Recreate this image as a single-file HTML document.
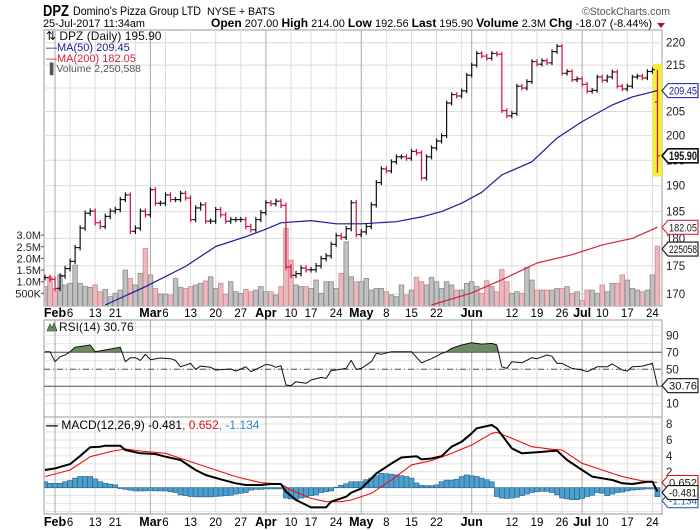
<!DOCTYPE html>
<html><head><meta charset="utf-8"><style>
html,body{margin:0;padding:0;background:#fff;}
svg{display:block;font-family:"Liberation Sans",sans-serif;}
</style></head><body>
<svg id="chart" width="700" height="530" viewBox="0 0 700 530" xmlns="http://www.w3.org/2000/svg">
<defs>
<clipPath id="mainClip"><rect x="44" y="30" width="618" height="276"/></clipPath>
<clipPath id="rsiClip"><rect x="44" y="320" width="618" height="97"/></clipPath>
<clipPath id="rsiHi"><rect x="44" y="320" width="618" height="32.3"/></clipPath>
<clipPath id="macdClip"><rect x="44" y="417" width="618" height="97"/></clipPath>
</defs>
<g>
<text x="43" y="16" font-size="16" font-weight="bold" textLength="26" lengthAdjust="spacingAndGlyphs">DPZ</text>
<text x="73" y="15" font-size="12" textLength="128" lengthAdjust="spacingAndGlyphs">Domino's Pizza Group LTD</text>
<text x="207" y="15" font-size="11" textLength="68" lengthAdjust="spacingAndGlyphs">NYSE + BATS</text>
<text x="582" y="15" font-size="11" fill="#555" textLength="88" lengthAdjust="spacingAndGlyphs">©StockCharts.com</text>
<text x="43" y="27" font-size="11" textLength="102" lengthAdjust="spacingAndGlyphs">25-Jul-2017 11:34am</text>
<text x="211" y="27" font-size="11" textLength="441" lengthAdjust="spacingAndGlyphs"><tspan font-weight="bold" font-size="12">Open</tspan> 207.00 <tspan font-weight="bold" font-size="12">High</tspan> 214.00 <tspan font-weight="bold" font-size="12">Low</tspan> 192.56 <tspan font-weight="bold" font-size="12">Last</tspan> 195.90 <tspan font-weight="bold" font-size="12">Volume</tspan> 2.3M <tspan font-weight="bold" font-size="12">Chg</tspan> -18.07 (-8.44%)</text>
<polygon points="657,23 665,23 661,28" fill="#b01030"/>
</g>
<g id="grid"></g>
<g id="panels"></g>
</svg>
<script>
// ---------- data ----------
const closes = [172.9,172.6,171,173.2,174.5,175.8,178.3,181.9,184.7,185.1,
182.9,182.2,184.1,185.1,185.4,187.3,188.2,181.3,181.9,185.1,
184.4,189.2,186.6,186.6,188.2,187.3,187.3,188.5,187.6,183.5,
185.7,186.3,183.2,183.2,185.4,184.4,183.2,183.5,183.5,183.5,
182.2,181.6,183.5,184.8,186.7,186.5,187,186.2,
174.8,173.3,173.6,174.6,174.3,174.3,175,176.3,176.8,178.9,180.5,180.2,181.8,
186.7,180.7,181.2,182.2,186.3,190.6,193.3,192.9,194.7,195.7,195.7,195.4,196.8,196.5,191.5,195.7,197.5,198.9,200,206.8,208.6,208.3,209.4,212.8,
215,217.6,217,216.5,217.6,217.4,205.2,204.1,204.6,210.4,210,211.4,215.8,215.2,216,215.5,218,219.2,213.2,213.6,211.8,212,210.8,209.3,209.5,212.4,211.7,212.4,213.5,210.4,209.8,210.4,212.4,212.6,212.2,213.6,214,195.9];
const lastBar = {open:207.0, high:214.0, low:192.56, close:195.9};
const volumes = [0.79,1.21,0.71,1.29,0.86,0.93,1.71,0.93,0.79,0.76,0.86,0.57,0.67,0.36,0.5,0.64,1.5,1.14,0.86,1.36,2.43,1.29,0.71,0.47,0.47,0.43,1.14,0.76,0.71,0.79,0.86,0.93,1.03,1.21,0.71,0.93,0.47,1.0,0.57,0.5,0.67,0.57,0.64,
0.79,0.57,0.57,0.43,0.79,3.29,
1.93,0.86,0.79,0.79,0.71,1.07,0.5,1.0,1.0,0.71,1.36,2.71,1.21,1.0,1.0,1.14,0.64,0.71,0.71,0.57,0.43,0.36,0.86,0.43,0.64,1.19,1.0,0.86,1.19,1.0,0.71,1.0,0.86,0.64,0.64,0.93,
1.0,0.79,0.5,1.04,0.79,0.57,1.53,1.0,0.5,0.57,0.5,1.61,1.07,0.64,0.64,0.64,0.64,0.71,0.71,0.79,0.5,0.57,0.19,0.64,0.64,0.5,0.86,0.57,0.93,0.93,1.29,1.07,0.71,0.64,0.57,0.64,1.29,2.53];
const ma50Idx = [12,20,28,34,40,44,47,53,58,63,70,75,79,83,87,91,97,102,107,113,117,122];
const ma50Val = [168.1,171.3,174.9,178.5,180.3,181.7,182.9,183.3,182.7,182.7,183.1,184.0,185.0,186.6,188.7,192.1,194.7,199.5,202.9,206.4,208.1,209.45];
const ma200Idx = [77,85,91,98,105,111,117,122];
const ma200Val = [168.1,170.2,172.5,175.5,177,178.8,180,182.05];
const rsiIdx = [0,1,2,3,4,5,6,9,10,15,16,17,18,19,20,21,23,25,26,27,29,30,31,33,34,37,38,39,40,41,42,44,45,46,47,48,49,50,52,53,55,56,57,60,61,62,63,65,66,67,69,73,75,77,79,80,81,83,85,87,89,90,91,92,93,95,97,98,100,101,102,103,105,107,108,110,112,113,115,116,117,119,121,122];
const rsiVal = [70.7,70.7,58.9,64.8,66.8,70.7,75.9,78.6,70.7,75.9,58.9,63.7,63.7,60.5,67.6,61.3,63.3,62.5,60.5,53,56.9,49.9,53.8,52.3,49.2,50.4,48,50.4,53,47.2,49.9,55.8,55,52.3,54.2,31.5,30.7,35.4,33.5,37.4,40.5,39.3,48.4,51.1,60.5,49.9,51.1,58.9,68.7,67.6,70.7,70.7,57.7,62.5,68.7,70.7,74.7,78.6,81.2,79.7,80.5,78.6,53,51.1,58.9,57.7,63.7,62.5,66.8,65.3,56.9,56.9,51.1,49.2,47.2,53,53,56.2,49.2,48,53,53.8,56.9,30.76];
const macdIdx = [0,2,5,7,9,11,12,15,16,19,22,24,27,30,32,35,38,40,43,45,47,48,50,53,56,57,60,61,63,66,69,71,74,75,77,79,81,83,85,86,89,90,92,93,95,98,101,102,104,107,109,111,113,115,117,120,121,122];
const macdVal = [2.22,2.43,2.97,3.98,5.07,5.15,5.28,5.28,4.74,4.32,4.23,3.9,3.48,2.22,1.6,1.05,0.55,0.34,0.34,0.46,0.46,-0.5,-1.55,-2.47,-2.47,-1.76,-1.13,-0.63,-0.1,1.78,3.04,3.79,3.96,3.55,3.67,3.96,5.15,5.78,6.83,7.46,7.88,7.46,5.78,4.94,4.32,4.45,4.61,4.65,3.48,2.22,1.39,1.18,0.97,0.55,0.46,0.76,0.76,-0.481];
const signalIdx = [0,5,9,13,16,19,24,28,34,38,43,47,49,53,56,59,61,65,69,73,77,81,85,89,90,93,97,101,103,107,111,115,119,122];
const signalVal = [1.39,2.22,3.9,4.53,4.86,4.61,4.32,3.48,2.22,1.39,0.63,0.46,-0.29,-1.34,-1.76,-1.76,-1.55,-0.71,0.97,2.86,3.4,4.32,5.36,6.83,6.95,6.2,5.15,4.82,4.74,3.06,2.22,1.39,0.85,0.652];
const histVal = [0.75,0.55,0.55,0.55,0.75,0.9,1.2,1.4,1.4,1.4,1.1,0.75,0.55,0.45,0.35,-0.1,-0.2,-0.3,-0.4,-0.4,-0.4,-0.35,-0.4,-0.4,-0.4,-0.5,-0.6,-0.9,-1.0,-1.1,-1.15,-1.15,-1.15,-1.15,-1.1,-1.05,-1.0,-0.95,-0.8,-0.7,-0.6,-0.3,-0.2,-0.2,-0.15,-0.15,-0.15,-0.15,-1.3,-1.4,-1.45,-1.3,-1.2,-1.0,-0.9,-0.6,-0.5,-0.4,0.05,0.3,0.5,0.75,
0.75,0.75,1.0,1.2,1.5,1.8,1.75,1.7,1.6,1.5,1.4,1.2,0.6,0.3,0.25,0.25,0.35,0.75,0.95,0.95,1.05,1.4,1.6,1.5,1.4,1.2,1.0,0.75,-1.1,-1.3,-1.35,-1.3,-1.2,-1.0,-0.8,-0.6,-0.5,-0.45,-0.45,-0.6,-0.9,-1.3,-1.4,-1.5,-1.5,-1.35,-1.1,-0.95,-0.6,-0.7,-1.0,-0.8,-0.6,-0.55,-0.4,-0.3,-0.25,-0.2,-0.15,-0.15,-1.13];
const priceTicks = [170,175,180,185,190,195,200,205,210,215,220];
const volTicks = [0.5,1.0,1.5,2.0,2.5,3.0];
const volTickLabels = ["500K","1.0M","1.5M","2.0M","2.5M","3.0M"];
const rsiTicks = [90,70,50,10];
const macdTicks = [8,6,4,2,-2];
const monthIdx = [2,21,44,63,85,107];
const monthNames = ["Feb","Mar","Apr","May","Jun","Jul"];
const weekIdx = [5,10,14,18,24,29,34,39,49,53,58,68,73,78,83,88,93,98,103,111,116,121];
const weekLabels = ["6","13","21","","6","13","20","27","10","17","24","8","15","22","","","12","19","26","10","17","24"];

// ---------- scales ----------
const xi = i => 45 + i*5.02;
const yP = p => 42.7 + 975*Math.log(220/p);
const yV = v => 305 - v*23.3;
const yR = r => 369.3 - (r-50)*0.85;
const yM = m => 487.7 - m*7.96;
const NS = "http://www.w3.org/2000/svg";
const svg = document.getElementById('chart');
const grid = document.getElementById('grid');
const panels = document.getElementById('panels');
function mk(tag, parent, attrs){ const e=document.createElementNS(NS,tag); for(const k in attrs) e.setAttribute(k,attrs[k]); (parent||svg).appendChild(e); return e; }

const panelDefs = [[30,276,'price-panel'],[320,97,'rsi-panel'],[417,97,'macd-panel']];
panelDefs.forEach(d=>{
  const r = mk('rect', grid, {x:44,y:d[0],width:618,height:d[1],fill:'#fff',stroke:'#999','stroke-width':1});
  
  
});

priceTicks.forEach(p=>{
  const l = mk('line', grid, {x1:44,x2:662,y1:yP(p),y2:yP(p),stroke:'#dcdcdc'});
  
  
});
for(let r=10;r<=100;r+=10){
  const l = mk('line', grid, {x1:44,x2:662,y1:yR(r),y2:yR(r),stroke:'#e2e2e2'});
  
  
}
for(let m=-3;m<=8;m++){
  const l = mk('line', grid, {x1:44,x2:662,y1:yM(m),y2:yM(m),stroke:'#e2e2e2'});
  
  
}
const bands = [[30,306],[320,417],[417,514]];
weekIdx.forEach(i=>{
  bands.forEach(b=>{
    const l = mk('line', grid, {x1:xi(i),x2:xi(i),y1:b[0],y2:b[1],stroke:'#dcdcdc'});
    
    
  });
});
monthIdx.forEach(i=>{
  bands.forEach(b=>{
    const l = mk('line', grid, {x1:xi(i),x2:xi(i),y1:b[0],y2:b[1],stroke:'#aaa'});
    
    
  });
});
[317,526].forEach(yy=>{
  monthIdx.forEach((i,k)=>{
    const t = mk('text', panels, {x:xi(i),y:yy,'font-size':12.5,'font-weight':'bold','text-anchor':'middle'});
    t.textContent = monthNames[k];
    
    
  });
  weekIdx.forEach((i,k)=>{
    if(!weekLabels[k]) return;
    const t = mk('text', panels, {x:xi(i),y:yy,'font-size':11.5,'text-anchor':'middle'});
    t.textContent = weekLabels[k];
    
    
  });
});

// ---------- price panel ----------
const mainG = mk('g', panels, {'clip-path':'url(#mainClip)'});


const hl = mk('rect', mainG, {x:xi(122)-5,y:yP(lastBar.high)-6,width:10,height:yP(lastBar.low)-yP(lastBar.high)+10,fill:'#f4ef3a'});


volumes.forEach((v,i)=>{
  const down = i>0 && closes[i]<closes[i-1];
  const r = mk('rect', mainG, {x:xi(i)-2.3,y:yV(v),width:4.6,height:305-yV(v)+2,fill:down?'#e9b9c0':'#c0c0c0',stroke:down?'#d98890':'#8c8c8c','stroke-width':0.8});
  
  
});
function polyline(parent, idx, vals, yf, color, w, name){
  const pts = idx.map((i,k)=>xi(i).toFixed(1)+','+yf(vals[k]).toFixed(1)).join(' ');
  const p = mk('polyline', parent, {points:pts,fill:'none',stroke:color,'stroke-width':w,'stroke-linejoin':'round'});
  
  
  return p;
}
polyline(mainG, ma50Idx, ma50Val, yP, '#1a1a9a', 1.2, 'ma50-line');
polyline(mainG, ma200Idx, ma200Val, yP, '#d8203c', 1.2, 'ma200-line');
closes.forEach((c,i)=>{
  let o = i>0 ? closes[i-1] : c;
  let hi = Math.max(o,c)+0.5, lo = Math.min(o,c)-0.5;
  if(i===closes.length-1){ o=lastBar.open; hi=lastBar.high; lo=lastBar.low; }
  const down = i>0 && c<closes[i-1];
  const col = down ? '#d0103a' : '#111';
  const g = mk('g', mainG, {stroke:col,'stroke-width':1.2});
  
  
  const x = xi(i);
  mk('line', g, {x1:x,x2:x,y1:yP(hi),y2:yP(lo)});
  mk('line', g, {x1:x-2.5,x2:x,y1:yP(o),y2:yP(o)});
  mk('line', g, {x1:x,x2:x+2.5,y1:yP(c),y2:yP(c)});
});
priceTicks.forEach(p=>{
  const t = mk('text', panels, {x:666,y:yP(p)+4,'font-size':11.5,fill:'#222'});
  t.textContent = p;
  
  
});
volTicks.forEach((v,k)=>{
  const t = mk('text', panels, {x:41,y:yV(v)+4,'font-size':11,fill:'#222','text-anchor':'end'});
  t.textContent = volTickLabels[k];
  
  
  const tk = mk('line', panels, {x1:41,x2:44,y1:yV(v),y2:yV(v),stroke:'#555'});
  
  
});
const leg = [[ '\u21C5 DPZ (Daily) 195.90','#111',40,12],['\u2014MA(50) 209.45','#1a1a9a',51,11],['\u2014MA(200) 182.05','#d8203c',62,11],['\u2590 Volume 2,250,588','#555',72,10.5]];
leg.forEach(l=>{
  const t = mk('text', panels, {x:46,y:l[2],'font-size':l[3],fill:l[1]});
  t.textContent = l[0];
  
  
});

function tag(y, label, stroke, color, bold, name){
  const g = mk('g', panels, {});
  
  
  mk('path', g, {d:`M662,${y} L668,${y-7} L698,${y-7} L698,${y+7} L668,${y+7} Z`,fill:'#fff',stroke:stroke,'stroke-width':bold?1.6:1.1});
  const t = mk('text', g, {x:669,y:y+4,'font-size':bold?11.5:11,'font-weight':bold?'bold':'normal',fill:color,textLength:28,lengthAdjust:'spacingAndGlyphs'});
  t.textContent = label;
}
tag(yP(209.45),'209.45','#1a1a9a','#1a1a9a',false,'ma50-value-tag');
tag(yP(195.90),'195.90','#111','#111',true,'last-price-tag');
tag(yP(182.05),'182.05','#d8203c','#222',false,'ma200-value-tag');
tag(yV(volumes[volumes.length-1])+3,'225058','#111','#111',false,'volume-value-tag');

// ---------- RSI panel ----------
const rsiG = mk('g', panels, {'clip-path':'url(#rsiClip)'});


const rsiPts = rsiIdx.map((i,k)=>xi(i).toFixed(1)+','+yR(rsiVal[k]).toFixed(1));
const fill = mk('polygon', rsiG, {points:rsiPts.join(' ')+` ${xi(122)},${yR(70)} ${xi(0)},${yR(70)}`,fill:'#6b8c63','clip-path':'url(#rsiHi)'});


[[70,'none'],[30,'none'],[50,'6,3,1,3']].forEach(d=>{
  const l = mk('line', rsiG, {x1:44,x2:662,y1:yR(d[0]),y2:yR(d[0]),stroke:'#555','stroke-width':1,'stroke-dasharray':d[1]});
  
  
});
polyline(rsiG, rsiIdx, rsiVal, yR, '#111', 1, 'rsi-line');
rsiTicks.forEach(r=>{
  const t = mk('text', panels, {x:666,y:yR(r)+4,'font-size':11.5,fill:'#222'});
  t.textContent = r;
  
  
});
tag(yR(30.76),'30.76','#111','#111',false,'rsi-value-tag');
const rl = mk('text', panels, {x:59,y:331,'font-size':12,fill:'#111'});
rl.textContent = 'RSI(14) 30.76';


const ri = mk('polygon', panels, {points:'47,331 50,324 52,328 54,323 57,331',fill:'#6b8c63',stroke:'#333','stroke-width':0.6});



// ---------- MACD panel ----------
const macdG = mk('g', panels, {'clip-path':'url(#macdClip)'});


histVal.forEach((h,i)=>{
  const y0 = yM(0), y1 = yM(h);
  const r = mk('rect', macdG, {x:xi(i)-2.5,y:Math.min(y0,y1),width:5,height:Math.abs(y1-y0),fill:'#4f9fcd',stroke:'#2a6a94','stroke-width':0.7});
  
  
});
polyline(macdG, signalIdx, signalVal, yM, '#f01010', 1.1, 'macd-signal-line');
polyline(macdG, macdIdx, macdVal, yM, '#000', 2, 'macd-line');
macdTicks.forEach(m=>{
  const t = mk('text', panels, {x:666,y:yM(m)+4,'font-size':11.5,fill:'#222'});
  t.textContent = m;
  
  
});
tag(yM(-1.134)+4,'-1.134','#2a6aa4','#2a6aa4',false,'histogram-value-tag');
tag(yM(0.652),'0.652','#e01010','#222',false,'signal-value-tag');
tag(yM(-0.481)+1,'-0.481','#111','#111',false,'macd-value-tag');
const ml = mk('text', panels, {x:46,y:429,'font-size':12});


ml.innerHTML = '<tspan font-weight="bold">\u2014</tspan> MACD(12,26,9) -0.481<tspan fill="#e01010">, 0.652</tspan><tspan fill="#2a8ac4">, -1.134</tspan>';
</script>
</body></html>
